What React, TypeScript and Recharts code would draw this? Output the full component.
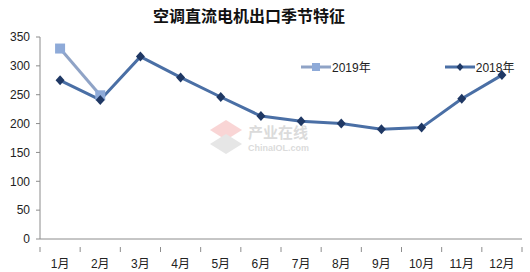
import React from "react";
import { LineChart, Line, XAxis, YAxis } from "recharts";

const MONTHS = ["1月", "2月", "3月", "4月", "5月", "6月", "7月", "8月", "9月", "10月", "11月", "12月"];
const Y2018 = [275, 241, 316, 280, 246, 213, 204, 200, 190, 193, 243, 284];
const Y2019: (number | null)[] = [330, 249, null, null, null, null, null, null, null, null, null, null];
const Y_TICKS = [0, 50, 100, 150, 200, 250, 300, 350];

const data = MONTHS.map((m, i) => ({ month: m, y2018: Y2018[i], y2019: Y2019[i] }));

const W = 530;
const H = 272;
const LEFT = 40;
const RIGHT = 8;
const BAND = (W - LEFT - RIGHT) / MONTHS.length;
const FONT = "'Liberation Sans', 'Noto Sans CJK SC', sans-serif";
const AXIS = "#8c8c8c";

const C2018 = "#4a6fa5";
const C2018_DOT = "#1f3864";
const C2019 = "#8fa3c6";
const C2019_DOT = "#8eaad8";

function MonthTick(props: any) {
    const { x, y, payload, index } = props;
    const left = x - BAND / 2;
    return (
        <g>
            <line x1={left} y1={y} x2={left} y2={y + 5} stroke={AXIS} />
            {index === MONTHS.length - 1 && (
                <line x1={x + BAND / 2} y1={y} x2={x + BAND / 2} y2={y + 5} stroke={AXIS} />
            )}
            <text x={x} y={y + 21} textAnchor="middle" fontSize={12} fill="#222" fontFamily={FONT}>
                {payload.value}
            </text>
        </g>
    );
}

function Diamond(props: any) {
    const { cx, cy } = props;
    if (cx == null || cy == null) return null;
    return <path d={`M${cx},${cy - 5}L${cx + 4.5},${cy}L${cx},${cy + 5}L${cx - 4.5},${cy}Z`} fill={C2018_DOT} />;
}

function Square(props: any) {
    const { cx, cy, value } = props;
    if (cx == null || cy == null || value == null) return null;
    return <rect x={cx - 5} y={cy - 5} width={10} height={10} fill={C2019_DOT} />;
}

export default function App() {
    return (
        <div style={{ position: "absolute", left: 0, top: 0, width: W, height: H, background: "#fff", fontFamily: FONT }}>
            <div style={{ position: "absolute", top: 3, left: 153, whiteSpace: "nowrap", fontSize: 16, fontWeight: "bold", color: "#111", fontFamily: "'Noto Sans CJK SC', sans-serif" }}>
                空调直流电机出口季节特征
            </div>

            {/* watermark */}
            <div style={{ position: "absolute", left: 210, top: 118, opacity: 0.35 }}>
                <svg width={110} height={40}>
                    <path d="M16,2L32,12L16,22L0,12Z" fill="#f08a8a" />
                    <path d="M16,16L32,26L16,36L0,26Z" fill="#b8b8b8" />
                    <text x={38} y={20} fontSize={15} fill="#999" fontFamily="'Noto Sans CJK SC', sans-serif" fontWeight="bold">产业在线</text>
                    <text x={38} y={33} fontSize={9} fill="#999" fontFamily={FONT} fontWeight="bold">ChinaIOL.com</text>
                </svg>
            </div>

            {/* legend */}
            <div style={{ position: "absolute", top: 58, left: 301, display: "flex", alignItems: "center", fontSize: 12, color: "#222" }}>
                <svg width={30} height={12}>
                    <line x1={0} y1={6} x2={30} y2={6} stroke={C2019} strokeWidth={3} />
                    <rect x={11} y={2} width={8} height={8} fill={C2019_DOT} />
                </svg>
                <span style={{ marginLeft: 1 }}>2019年</span>
                <svg width={30} height={12} style={{ marginLeft: 74 }}>
                    <line x1={0} y1={6} x2={30} y2={6} stroke={C2018} strokeWidth={3} />
                    <path d="M15,2L18.5,6L15,10L11.5,6Z" fill={C2018_DOT} />
                </svg>
                <span style={{ marginLeft: 1 }}>2018年</span>
            </div>

            <LineChart width={W} height={H} data={data} margin={{ top: 37, right: RIGHT, bottom: 0, left: 0 }}>
                <XAxis
                    dataKey="month"
                    scale="band"
                    height={33}
                    interval={0}
                    tickLine={false}
                    axisLine={{ stroke: AXIS }}
                    tick={<MonthTick />}
                />
                <YAxis
                    width={LEFT}
                    domain={[0, 350]}
                    ticks={Y_TICKS}
                    interval={0}
                    tickSize={4}
                    tickMargin={6}
                    axisLine={{ stroke: AXIS }}
                    tickLine={{ stroke: AXIS }}
                    tick={{ fontSize: 12, fill: "#222", fontFamily: FONT }}
                />
                <Line
                    dataKey="y2019"
                    stroke={C2019}
                    strokeWidth={3}
                    dot={<Square />}
                    activeDot={false}
                    connectNulls={false}
                    isAnimationActive={false}
                />
                <Line
                    dataKey="y2018"
                    stroke={C2018}
                    strokeWidth={3}
                    dot={<Diamond />}
                    activeDot={false}
                    isAnimationActive={false}
                />
            </LineChart>
        </div>
    );
}
